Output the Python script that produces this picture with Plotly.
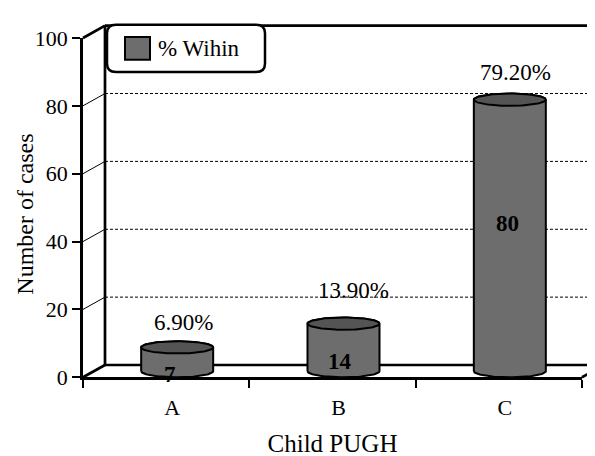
import numpy as np
import plotly.graph_objects as go

# ---------------- data ----------------
categories = ["A", "B", "C"]
counts = [7, 14, 80]
percent_labels = ["6.90%", "13.90%", "79.20%"]
y_tick_values = [0, 20, 40, 60, 80, 100]
legend_label = "% Wihin"
x_title = "Child PUGH"
y_title = "Number of cases"

# ---------------- geometry (page pixels; page body has an 8px margin) ----------------
W, H = 595, 456
OFF = 8
X0, Y0 = 83 - OFF, 386 - OFF      # front-plane origin (x=-0.5, y=0)
X_END = 582 - OFF                 # front-plane x=2.5
Y_TOP = 27 - OFF                  # front-plane y=100
CAT_PX = (X_END - X0) / 3
UNIT_PX = (Y0 - Y_TOP) / 100
DX = 22 / CAT_PX          # depth offset (category units)
DY = 13 / UNIT_PX         # depth offset (value units)
R = 36 / CAT_PX           # cylinder radius (category units)
RY = DY / 2               # ellipse vertical radius (value units)
YMAX = y_tick_values[-1]

x_full = [-0.5 - X0 / CAT_PX, -0.5 + (W - X0) / CAT_PX]
y_full = [-(H - Y0) / UNIT_PX, Y0 / UNIT_PX]

FONT = "Liberation Serif"
BODY = "#6d6d6d"
TOP = "#545454"

fig = go.Figure()

# cylinders
t_front = np.linspace(np.pi, 2 * np.pi, 60)
t_back = np.linspace(0, np.pi, 60)
t_all = np.linspace(0, 2 * np.pi, 120)
for i, v in enumerate(counts):
    cx = i + DX / 2
    yb = DY / 2
    yt = v + DY / 2
    bx = np.concatenate([cx + R * np.cos(t_front), cx + R * np.cos(t_back)])
    by = np.concatenate([yb + RY * np.sin(t_front), yt + RY * np.sin(t_back)])
    bx = np.append(bx, bx[0])
    by = np.append(by, by[0])
    fig.add_trace(go.Scatter(x=bx, y=by, mode="lines", fill="toself",
                             fillcolor=BODY, line=dict(color="black", width=2),
                             hoverinfo="skip", showlegend=False))
    fig.add_trace(go.Scatter(x=cx + R * np.cos(t_all), y=yt + RY * np.sin(t_all),
                             mode="lines", fill="toself", fillcolor=TOP,
                             line=dict(color="black", width=2),
                             hoverinfo="skip", showlegend=False))

# trace that carries the visible front axes
fig.add_trace(go.Scatter(x=categories, y=counts, mode="markers",
                         marker=dict(opacity=0), xaxis="x2", yaxis="y2",
                         hoverinfo="skip", showlegend=False))

# ---------------- walls ----------------
shapes = []
xr = x_full[1] + 1
bx0 = -0.5 + DX
thick = dict(color="black", width=2.7)


def seg(x0, y0, x1, y1, line):
    shapes.append(dict(type="line", xref="x", yref="y", x0=x0, y0=y0,
                       x1=x1, y1=y1, line=line, layer="below"))


for v in y_tick_values[1:-1]:
    seg(bx0, v + DY, xr, v + DY, dict(color="black", width=1, dash="3px,2px"))
    seg(-0.5, v, bx0, v + DY, dict(color="black", width=1))
seg(bx0, YMAX + DY, xr, YMAX + DY, thick)
seg(bx0, DY, bx0, YMAX + DY, thick)
seg(bx0, DY, xr, DY, thick)
seg(-0.5, 0, bx0, DY, thick)
seg(2.5, 0, 2.5 + DX, DY, thick)
seg(-0.5, YMAX, bx0, YMAX + DY, thick)


# ---------------- legend (rounded box) ----------------
def px(x):
    return (x - OFF) / W


def py(y):
    return 1 - (y - OFF) / H


lx0, ly0, lx1, ly1, rr = 107, 13, 265, 63, 9
path = (f"M {px(lx0 + rr)},{py(ly0)} L {px(lx1 - rr)},{py(ly0)} "
        f"Q {px(lx1)},{py(ly0)} {px(lx1)},{py(ly0 + rr)} "
        f"L {px(lx1)},{py(ly1 - rr)} Q {px(lx1)},{py(ly1)} {px(lx1 - rr)},{py(ly1)} "
        f"L {px(lx0 + rr)},{py(ly1)} Q {px(lx0)},{py(ly1)} {px(lx0)},{py(ly1 - rr)} "
        f"L {px(lx0)},{py(ly0 + rr)} Q {px(lx0)},{py(ly0)} {px(lx0 + rr)},{py(ly0)} Z")
shapes.append(dict(type="path", xref="paper", yref="paper", path=path,
                   fillcolor="white", line=dict(color="black", width=2.5),
                   layer="above"))
shapes.append(dict(type="rect", xref="paper", yref="paper",
                   x0=px(125), y0=py(50), x1=px(150), y1=py(26),
                   fillcolor=BODY, line=dict(color="black", width=2),
                   layer="above"))

annotations = [
    dict(xref="paper", yref="paper", x=px(156), y=py(38),
         xanchor="left", yanchor="middle", text=legend_label,
         showarrow=False, font=dict(family=FONT, size=23, color="black")),
    dict(xref="paper", yref="paper", x=px(25), y=py(214),
         xanchor="center", yanchor="middle", text=y_title, textangle=-90,
         borderpad=0,
         showarrow=False, font=dict(family=FONT, size=24, color="black")),
]

pct_xshift = [6, 10, 6]
pct_yshift = [25, 33, 27]
cnt_xshift = [-7, -4, -2]
cnt_yshift = [-9, -8, 18]
for i, v in enumerate(counts):
    annotations.append(dict(xref="x", yref="y", x=i + DX / 2, y=v + DY / 2,
                            xshift=pct_xshift[i], yshift=pct_yshift[i],
                            text=percent_labels[i], showarrow=False,
                            font=dict(family=FONT, size=23, color="black")))
    annotations.append(dict(xref="x", yref="y", x=i + DX / 2, y=v / 2,
                            xshift=cnt_xshift[i], yshift=cnt_yshift[i],
                            text=str(v), showarrow=False,
                            font=dict(family=FONT, size=23, color="black",
                                      weight="bold")))

fig.update_layout(
    width=W, height=H, autosize=False,
    margin=dict(l=0, r=0, t=0, b=0),
    paper_bgcolor="white", plot_bgcolor="rgba(0,0,0,0)",
    showlegend=False,
    font=dict(family=FONT, color="black"),
    shapes=shapes, annotations=annotations,
    xaxis=dict(domain=[0, 1], range=x_full, visible=False, fixedrange=True,
               anchor="y"),
    yaxis=dict(domain=[0, 1], range=y_full, visible=False, fixedrange=True,
               anchor="x"),
    xaxis2=dict(domain=[X0 / W, X_END / W], anchor="y2", type="category",
                categoryorder="array", categoryarray=categories,
                range=[-0.5, 2.5], tickson="boundaries", ticks="outside",
                ticklen=8, tickwidth=2, tickcolor="black",
                showline=True, linewidth=2.7, linecolor="black",
                showgrid=False, zeroline=False, ticklabelshift=6,
                ticklabelstandoff=8,
                tickfont=dict(family=FONT, size=22, color="black"),
                title=dict(text=x_title, standoff=16,
                           font=dict(family=FONT, size=25, color="black")),
                fixedrange=True),
    yaxis2=dict(domain=[(H - Y0) / H, (H - Y_TOP) / H], anchor="x2",
                range=[0, YMAX], tickvals=y_tick_values, ticks="outside",
                ticklen=8, tickwidth=2, tickcolor="black",
                showline=True, linewidth=2.7, linecolor="black",
                showgrid=False, zeroline=False,
                tickfont=dict(family=FONT, size=22, color="black"),
                fixedrange=True),
)

fig.write_html("out.html")
